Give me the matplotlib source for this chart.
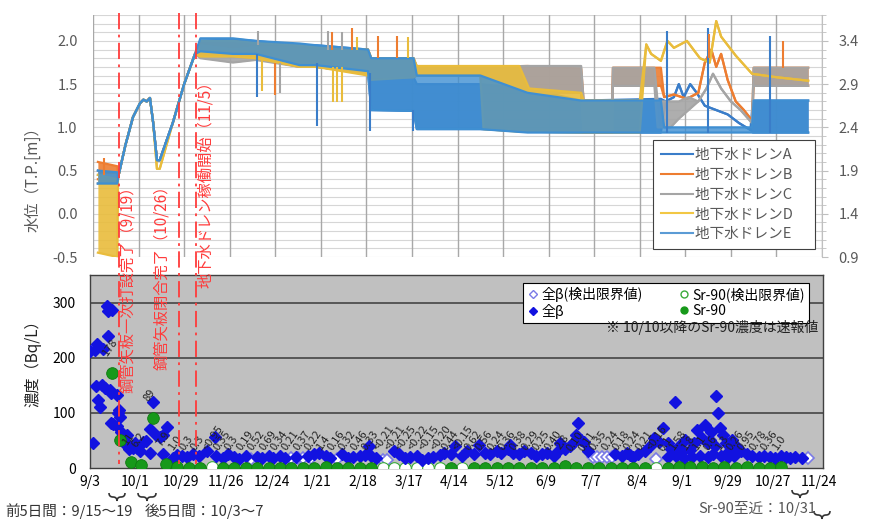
import numpy as np
import matplotlib
matplotlib.use("Agg")
import matplotlib.pyplot as plt
import matplotlib.transforms as mtransforms
from matplotlib.lines import Line2D
from matplotlib.path import Path
from matplotlib.patches import PathPatch

plt.rcParams['font.family'] = ['Noto Sans CJK JP', 'DejaVu Sans']

#<----------------------------------------------- Data ----------------------------------------------->
# x values are days after 2015/9/3

# --- water level (top chart): (day, low, high) envelope of each dense logger trace ---
drain_names = ['地下水ドレンA', '地下水ドレンB', '地下水ドレンC', '地下水ドレンD', '地下水ドレンE']

# common rise after the first piling, same for every drain
rise = [(15.4, 0.42, 0.42), (20, 0.8, 0.8), (24.6, 1.12, 1.12), (28.9, 1.28, 1.28), (31, 1.32, 1.32),
        (33, 1.3, 1.3), (35, 1.34, 1.34), (37, 1.05, 1.05), (39.3, 0.62, 0.62), (41, 0.62, 0.62),
        (49, 1.05, 1.05), (56, 1.5, 1.5), (62.7, 1.85, 1.85)]

A_env = [(3, 0.35, 0.5), (15, 0.35, 0.45)] + rise + [
    (66, 1.85, 2.0), (86, 1.82, 2.02), (100, 1.82, 2.0), (127, 1.72, 1.95), (137, 1.7, 1.95),
    (169, 1.63, 1.9), (171, 1.2, 1.6), (197, 1.19, 1.58), (199, 0.98, 1.5), (238, 0.98, 1.5),
    (267, 0.95, 1.45), (300, 0.94, 1.31), (349, 0.94, 1.33), (352, 1.3, 1.3), (357, 1.35, 1.35),
    (360, 1.5, 1.5), (363, 1.35, 1.35), (367, 1.5, 1.5), (371, 1.4, 1.4), (376, 1.25, 1.25),
    (383, 1.2, 1.2), (390, 1.15, 1.15), (397, 1.05, 1.05), (404, 0.97, 0.97), (405.5, 0.94, 1.31),
    (439.5, 0.94, 1.31)]

B_env = [(3, 0.4, 0.6), (15, 0.4, 0.55)] + rise + [
    (66, 1.85, 1.98), (86, 1.82, 2.0), (100, 1.8, 1.98), (127, 1.7, 1.93), (137, 1.7, 1.92),
    (169, 1.63, 1.9), (171, 1.58, 1.8), (197, 1.58, 1.8), (199, 1.6, 1.7), (238, 1.6, 1.7),
    (267, 1.45, 1.71), (300, 1.4, 1.68), (301.5, 0.94, 1.31), (319, 0.94, 1.31), (319.5, 1.48, 1.69),
    (349, 1.48, 1.69), (351, 1.35, 1.35), (357, 1.38, 1.38), (365, 1.33, 1.33), (372, 1.4, 1.4),
    (376, 1.75, 1.75), (380, 1.9, 1.9), (383, 1.7, 1.7), (386, 1.85, 1.85), (390, 1.55, 1.55),
    (395, 1.3, 1.3), (400, 1.2, 1.2), (405, 1.08, 1.08), (406, 1.48, 1.69), (439.5, 1.48, 1.69)]

C_env = [(3, 0.35, 0.45), (15, 0.35, 0.45)] + rise + [
    (66, 1.8, 1.95), (86, 1.75, 1.9), (100, 1.78, 1.93), (127, 1.7, 1.92), (137, 1.7, 1.92),
    (169, 1.63, 1.9), (171, 1.58, 1.8), (197, 1.58, 1.8), (199, 1.6, 1.7), (238, 1.6, 1.7),
    (267, 1.4, 1.71), (300, 1.4, 1.71), (301.5, 0.94, 1.31), (319, 0.94, 1.31), (319.5, 1.48, 1.69),
    (345, 1.48, 1.69), (347, 1.0, 1.3), (355, 1.0, 1.3), (360, 1.1, 1.3), (366, 1.2, 1.35),
    (372, 1.3, 1.3), (377, 1.45, 1.45), (381, 1.62, 1.62), (386, 1.45, 1.45), (392, 1.3, 1.3),
    (398, 1.2, 1.2), (405, 1.05, 1.05), (406, 1.48, 1.69), (439.5, 1.48, 1.69)]

D_env = [(3, -0.45, 0.45), (15, -0.5, 0.4)] + rise[:8] + [(39.3, 0.52, 0.52), (41, 0.52, 0.52)] + rise[10:] + [
    (66, 1.82, 2.0), (86, 1.82, 2.0), (100, 1.8, 1.98), (127, 1.7, 1.95), (137, 1.7, 1.93),
    (169, 1.6, 1.9), (171, 1.55, 1.8), (197, 1.58, 1.8), (199, 1.6, 1.71), (238, 1.6, 1.71),
    (240, 0.98, 1.71), (262, 0.95, 1.71), (268, 0.95, 1.45), (300, 0.94, 1.4), (301.5, 0.94, 1.31),
    (336, 0.94, 1.31), (340, 1.96, 1.96), (343, 1.85, 1.85), (349, 1.77, 1.77), (353, 2.0, 2.0),
    (357, 1.92, 1.92), (365, 2.0, 2.0), (373, 1.8, 1.8), (379, 1.75, 1.75), (383, 2.23, 2.23),
    (386, 2.05, 2.05), (395, 1.83, 1.83), (405, 1.62, 1.62), (420, 1.58, 1.58), (439.5, 1.54, 1.54)]

E_env = [(3, 0.35, 0.5), (15, 0.35, 0.48)] + rise + [
    (66, 1.88, 2.03), (86, 1.85, 2.03), (100, 1.85, 2.0), (127, 1.72, 1.97), (137, 1.72, 1.95),
    (169, 1.65, 1.9), (171, 1.2, 1.8), (197, 1.19, 1.8), (199, 0.98, 1.6), (238, 0.98, 1.6),
    (267, 0.94, 1.4), (300, 0.94, 1.31), (349, 0.94, 1.31), (351, 0.94, 1.0), (405, 0.94, 1.0),
    (406, 0.94, 1.31), (439.5, 0.94, 1.31)]

# short spikes / dips of single traces: (drain index, day, from, to)
spikes = [(0, 101, 1.35, 1.85), (0, 137.7, 1.02, 1.75), (0, 170, 0.96, 1.63), (0, 196.7, 0.96, 1.2),
          (0, 352.8, 0.94, 2.12), (0, 378, 0.94, 2.15), (0, 416, 0.94, 2.06),
          (1, 7, 0.45, 0.65), (1, 112, 1.38, 1.75), (1, 147, 1.9, 2.1), (1, 159, 1.9, 2.15),
          (1, 175, 1.8, 2.06), (1, 187, 1.8, 2.06), (1, 378.5, 1.8, 2.08), (1, 424, 1.69, 2.0),
          (2, 101.5, 1.95, 2.12), (2, 115, 1.4, 1.75), (2, 144.5, 1.9, 2.12), (2, 153, 1.9, 2.1),
          (3, 104, 1.42, 1.8), (3, 147.5, 1.29, 1.7), (3, 150, 1.29, 1.7), (3, 153, 1.29, 1.7),
          (3, 162, 1.9, 2.05), (3, 193.6, 1.8, 2.05)]

# --- concentration (bottom chart): (day, Bq/L) ---
beta_pts = [(0.3, 213), (2.2, 45), (3.2, 214), (4.2, 148), (4.4, 225), (5.5, 123), (6.3, 111), (7.5, 151),
            (8.5, 216), (9.3, 145), (10.5, 294), (11.4, 284), (11.4, 239), (12.6, 142), (13.4, 136),
            (13.4, 82), (13.6, 287), (14.6, 80), (16.7, 133), (17, 77), (17.5, 100), (18, 105), (19, 93),
            (19.5, 66), (21, 45), (22.8, 59), (23.6, 42), (24, 34), (26.7, 36), (28, 46), (29, 37), (31, 30),
            (33, 48), (35, 49), (37, 71), (37, 28), (39, 120), (41, 59), (43, 57), (45, 59), (45, 25),
            (47.4, 74), (51.5, 19), (54, 24), (56.6, 22), (60, 20), (63.8, 25), (67, 22), (72, 31), (77, 56),
            (78, 22), (82, 18), (85, 25), (89, 20), (92, 17), (96, 22), (103, 20), (106, 18), (110, 21),
            (113, 19), (117, 22), (120, 18), (127, 20), (134, 22), (138, 25), (141, 28), (145, 22), (148, 18),
            (155, 25), (159, 18), (162, 20), (166, 22), (169, 24), (171.6, 39), (173, 22), (176, 18), (187, 30),
            (190, 26), (194, 18), (197, 20), (201, 22), (204, 15), (208, 18), (211, 20), (215, 24), (218, 28),
            (222, 26), (224.5, 40), (229, 22), (232, 30), (236, 26), (239, 42), (243, 28), (246, 25), (250, 30),
            (253, 28), (257, 35), (258, 42), (260, 28), (264, 25), (267, 30), (271, 28), (274, 22), (278, 25),
            (281, 28), (285, 22), (288, 30), (289, 45), (292, 35), (295, 40), (297, 45), (299, 60), (300, 82),
            (302, 50), (304, 48), (306, 30), (323, 25), (327, 22), (330, 28), (332, 24), (334, 20), (337, 25),
            (341, 30), (344, 40), (347, 55), (350, 48), (352, 73), (355, 45), (355, 20), (357, 35), (359.6, 119),
            (360, 22), (362, 40), (364, 30), (365, 18), (366, 50), (369, 33), (370, 20), (371, 45), (373, 69),
            (375, 22), (376, 55), (378, 78), (380, 45), (380, 20), (381, 51), (382, 66), (383, 25), (384, 40),
            (385, 130), (386, 100), (387, 73), (388, 22), (389, 60), (391, 45), (392, 20), (393, 30),
            (394.5, 51), (396, 22), (397, 40), (400, 30), (404, 25), (407, 22), (411, 20), (414, 22), (418, 20),
            (421, 18), (425, 22), (428, 20), (430, 18), (433, 20), (437.5, 18)]

beta_nd_pts = [(99, 17), (104, 17), (124, 18), (128, 18), (131, 18), (136, 18), (152, 17), (180, 14),
               (183, 14), (309, 20), (312, 20), (315, 20), (318, 20), (321, 20), (348, 17), (441, 18)]

sr_early_days = [13.6, 18.5, 25.7, 31.8, 39]
sr_early_vals = [172, 51, 11, 6, 90]
sr_early_labels = ['178', '', '11', '6.2', '89']

sr_days = [47, 54, 61, 68, 75, 82, 89, 96, 103, 110, 117, 124, 131, 138, 145, 152, 159, 166, 173,
           180, 187, 194, 201, 208, 215, 222, 229, 236, 243, 250, 257, 264, 271, 278, 285, 292, 299,
           306, 313, 320, 327, 334, 341, 348, 355, 362, 369, 376, 383, 390, 397, 404, 411, 418, 425]
sr_labels = ['7.9', '1.0', '0.3', '0.3', '<0.95', '0.35', '0.3', '0.19', '0.52', '0.69', '0.34', '0.21',
             '0.37', '0.22', '1.4', '0.16', '0.32', '0.46', '0.33', '<0.21', '<0.21', '<0.25', '<0.22',
             '<0.15', '<0.20', '0.44', '<0.15', '0.62', '0.56', '0.24', '0.36', '0.38', '0.29', '0.25',
             '0.40', '2.8', '0.10', '0.11', '0.35', '0.24', '0.18', '0.24', '0.21', '<0.16', '0.1',
             '1.58', '1.8', '1.1', '0.6', '1.3', '0.26', '0.95', '0.78', '0.36', '1.0']

tick_days = [0, 28, 56, 84, 112, 140, 168, 196, 224, 252, 280, 308, 336, 364, 392, 420, 448]
tick_labels = ['9/3', '10/1', '10/29', '11/26', '12/24', '1/21', '2/18', '3/17', '4/14', '5/12',
               '6/9', '7/7', '8/4', '9/1', '9/29', '10/27', '11/24']

# construction events (day, text)
events = [(16, '鋼管矢板一次打設完了（9/19）'), (53, '鋼管矢板閉合完了（10/26）'), (63, '地下水ドレン稼働開始（11/5）')]

#<----------------------------------------------- Figure ----------------------------------------------->
W, H = 871, 523
fig = plt.figure(figsize=(W / 100, H / 100), dpi=100)

def fx(px):
    return px / W

def fy(py):
    return 1 - py / H

ax1 = fig.add_axes([fx(93), fy(257), fx(822) - fx(93), fy(15) - fy(257)])
ax2 = fig.add_axes([fx(89.5), fy(468), fx(823) - fx(89.5), fy(275) - fy(468)])

## Top chart
ax1.set_xlim(0, 448)
ax1.set_ylim(-0.5, 2.3)
for v in np.arange(-0.5, 2.31, 0.1):
    ax1.axhline(v, color='#D6D6D6', lw=0.8, zorder=0.3)
for d in tick_days:
    ax1.axvline(d, color='#A8A8A8', lw=1, zorder=0.5)
for s in ax1.spines.values():
    s.set_visible(False)
ax1.set_xticks([])
ax1.set_yticks([-0.5, 0.0, 0.5, 1.0, 1.5, 2.0])
ax1.set_yticklabels(['-0.5', '0.0', '0.5', '1.0', '1.5', '2.0'])
ax1.tick_params(axis='y', length=0, pad=11, labelsize=10.5, labelcolor='#595959')

colors = ['#3A7DC9', '#ED7D31', '#A5A5A5', '#E9BC3C', '#3F8FD2']
alphas = [0.9, 0.9, 0.9, 0.9, 0.8]
for env, c, a in zip([A_env, B_env, C_env, D_env, E_env], colors, alphas):
    d = [p[0] for p in env]
    lo = [p[1] for p in env]
    hi = [p[2] for p in env]
    ax1.fill_between(d, lo, hi, color=c, alpha=a, lw=0, zorder=2)
    ax1.plot(d, lo, color=c, lw=1.6, zorder=2)
    ax1.plot(d, hi, color=c, lw=1.6, zorder=2)
for i, d, y0, y1 in spikes:
    ax1.vlines(d, y0, y1, color=colors[i], lw=1.5, zorder=2)

ax1r = ax1.twinx()
ax1r.set_ylim(0.9, 3.7)
ax1r.set_yticks([0.9, 1.4, 1.9, 2.4, 2.9, 3.4])
ax1r.set_yticklabels(['0.9', '1.4', '1.9', '2.4', '2.9', '3.4'])
ax1r.set_yticks(np.arange(0.9, 3.71, 0.1), minor=True)
for k, s in ax1r.spines.items():
    s.set_visible(k == 'right')
ax1r.spines['right'].set_color('#BFBFBF')
ax1r.tick_params(axis='y', which='major', length=4, color='#BFBFBF', pad=8, labelsize=10.5, labelcolor='#595959')
ax1r.tick_params(axis='y', which='minor', length=3, color='#BFBFBF')

handles = [Line2D([], [], color=c, lw=1.5) for c in ['#3A7DC9', '#ED7D31', '#A5A5A5', '#F2C744', '#5B9BD5']]
leg1 = ax1r.legend(handles, [n + '\u3000' for n in drain_names], loc='upper left',
                   bbox_to_anchor=(fx(653), fy(140)), bbox_transform=fig.transFigure, fontsize=10.5,
                   fancybox=False, edgecolor='#404040', framealpha=1, borderaxespad=0, handlelength=2.2,
                   handletextpad=0.1, labelspacing=0.4, borderpad=0.55)
leg1.get_frame().set_linewidth(0.8)
for t in leg1.get_texts():
    t.set_color('#595959')

## Bottom chart
ax2.set_facecolor('#C0C0C0')
ax2.set_xlim(0, 450.5)
ax2.set_ylim(0, 350)
for v in [100, 200, 300]:
    ax2.axhline(v, color='#3A3A3A', lw=1.1, zorder=0.5)
ax2.set_yticks([0, 100, 200, 300])
ax2.set_xticks(tick_days)
ax2.set_xticklabels(tick_labels)
ax2.tick_params(axis='y', length=0, pad=10, labelsize=10)
ax2.tick_params(axis='x', length=0, pad=5, labelsize=10)
for s in ax2.spines.values():
    s.set_color('#404040')
    s.set_linewidth(1)

bx = [p[0] for p in beta_nd_pts]
by = [p[1] for p in beta_nd_pts]
ax2.plot(bx, by, 'D', ls='none', mfc='white', mec='#7A7AE6', ms=6, mew=1.2, zorder=3)

sr_vals = [float(s.lstrip('<')) for s in sr_labels]
nd = [s.startswith('<') for s in sr_labels]
ax2.plot([d for d, n in zip(sr_days, nd) if n], [v for v, n in zip(sr_vals, nd) if n], 'o', ls='none',
         mfc='white', mec='#3AAA3A', ms=8.4, mew=0.8, zorder=3)

bx = [p[0] for p in beta_pts]
by = [p[1] for p in beta_pts]
ax2.plot(bx, by, 'D', ls='none', color='#1212E0', ms=6, zorder=4)

ax2.plot([d for d, n in zip(sr_days, nd) if not n], [v for v, n in zip(sr_vals, nd) if not n], 'o',
         ls='none', mfc='#17991A', mec='#0E7A10', ms=8.4, mew=0.6, zorder=5)
ax2.plot(sr_early_days, sr_early_vals, 'o', ls='none', mfc='#17991A', mec='#0E7A10', ms=8.4, mew=0.6, zorder=5)

for d, v, lab in zip(sr_early_days + sr_days, sr_early_vals + sr_vals, sr_early_labels + sr_labels):
    if lab:
        ax2.annotate(lab, (d, v), xytext=(-2, 11), textcoords='offset points', rotation=55,
                     rotation_mode='anchor', ha='left', va='bottom', fontsize=8, color='#222222',
                     zorder=6, annotation_clip=False)

leg_h = [Line2D([], [], marker='D', ls='none', mfc='white', mec='#7A7AE6', ms=4.5),
         Line2D([], [], marker='D', ls='none', color='#1212E0', ms=4.5),
         Line2D([], [], marker='o', ls='none', mfc='white', mec='#3AAA3A', ms=5),
         Line2D([], [], marker='o', ls='none', color='#17991A', ms=5)]
leg2 = ax2.legend(leg_h, ['全β(検出限界値)', '全β', 'Sr-90(検出限界値)', 'Sr-90'], ncol=2,
                  loc='upper left', bbox_to_anchor=(fx(523), fy(283)), bbox_transform=fig.transFigure,
                  borderaxespad=0, fontsize=10, fancybox=False, edgecolor='black', framealpha=1,
                  handlelength=0.8, handletextpad=0.2, columnspacing=2.6, labelspacing=0.1, borderpad=0.3)
leg2.get_frame().set_linewidth(0.8)
leg2.set_zorder(10)

fig.text(fx(818), fy(327), '※ 10/10以降のSr-90濃度は速報値', ha='right', va='center', fontsize=10, color='#222222')

## Axis titles
fig.text(fx(33), fy(176), '水位（T.P.[m]）', rotation=90, ha='center', va='center', fontsize=11, color='#595959')
fig.text(fx(33), fy(360), '濃度（Bq/L）', rotation=90, ha='center', va='center', fontsize=11, color='#222222')

## Event lines across both charts
trans = mtransforms.blended_transform_factory(ax1.transData, fig.transFigure)
text_x = [128, 162, 205]
text_bottom = [393, 370, 288]
for (d, label), tx, tb in zip(events, text_x, text_bottom):
    fig.add_artist(Line2D([d, d], [fy(13), fy(464)], transform=trans, color='#FF3B3B', lw=1.3,
                          linestyle=(0, (9, 3, 1.5, 3))))
    fig.text(fx(tx), fy(tb), label, rotation=90, ha='center', va='bottom', fontsize=11, color='#FF3B3B')

## Notes below the chart with braces
def brace(xc, yc, w, h):
    x0, x1 = xc - w / 2, xc + w / 2
    top, mid, bot = yc - h / 2, yc, yc + h / 2
    q = h / 2
    pts = [(x0, top), (x0, mid), (x0 + q, mid), (xc - q, mid), (xc, mid), (xc, bot),
           (xc, mid), (xc + q, mid), (x1 - q, mid), (x1, mid), (x1, top)]
    codes = [Path.MOVETO, Path.CURVE3, Path.CURVE3, Path.LINETO, Path.CURVE3, Path.CURVE3,
             Path.CURVE3, Path.CURVE3, Path.LINETO, Path.CURVE3, Path.CURVE3]
    verts = [(fx(px), fy(py)) for px, py in pts]
    fig.add_artist(PathPatch(Path(verts, codes), transform=fig.transFigure, fill=False,
                             edgecolor='#333333', lw=1.2))

brace(117, 497, 16, 8)
brace(147, 497, 18, 8)
brace(800, 494, 16, 8)
brace(822, 515, 16, 8)

fig.text(fx(5), fy(511), '前5日間：9/15～19', ha='left', va='center', fontsize=10.5, color='#333333')
fig.text(fx(145), fy(511), '後5日間：10/3～7', ha='left', va='center', fontsize=10.5, color='#333333')
fig.text(fx(698), fy(508), 'Sr-90至近：10/31', ha='left', va='center', fontsize=10.5, color='#555555')

fig.savefig('out.png', dpi=100)
